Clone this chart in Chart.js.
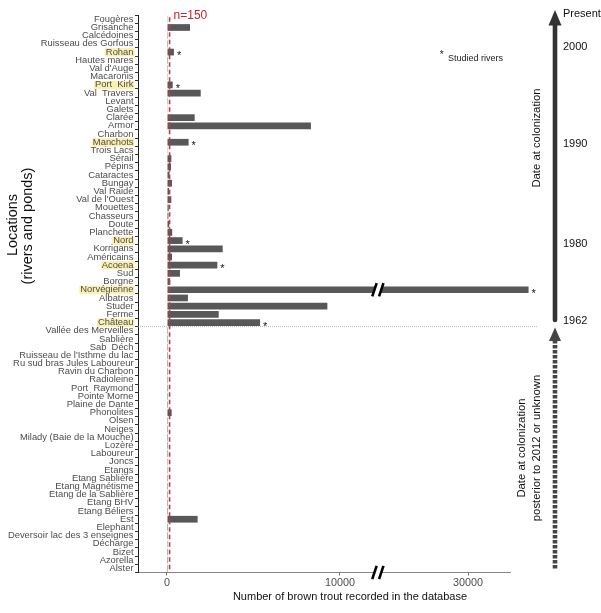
<!DOCTYPE html>
<html>
<head>
<meta charset="utf-8">
<script src="https://cdn.jsdelivr.net/npm/chart.js@4.4.0/dist/chart.umd.min.js"></script>
<style>
  html, body { margin: 0; padding: 0; background: #fff; }
  #wrap { width: 601px; height: 613px; position: relative; }
</style>
</head>
<body>
<div id="wrap"><canvas id="trout-chart"></canvas></div>
<script>
const locations = [
  'Fougères', 'Grisanche', 'Calcédoines', 'Ruisseau des Gorfous', 'Rohan', 'Hautes mares',
  "Val d'Auge", 'Macaronis', 'Port  Kirk', 'Val  Travers', 'Levant', 'Galets', 'Clarée', 'Armor',
  'Charbon', 'Manchots', 'Trois Lacs', 'Sérail', 'Pépins', 'Cataractes', 'Bungay', 'Val Raide',
  "Val de l'Ouest", 'Mouettes', 'Chasseurs', 'Doute', 'Planchette', 'Nord', 'Korrigans',
  'Américains', 'Acoena', 'Sud', 'Borgne', 'Norvégienne', 'Albatros', 'Studer', 'Ferme', 'Château',
  'Vallée des Merveilles', 'Sablière', 'Sab  Déch', "Ruisseau de l'Isthme du lac",
  'Ru sud bras Jules Laboureur', 'Ravin du Charbon', 'Radioleine', 'Port  Raymond', 'Pointe Morne',
  'Plaine de Dante', 'Phonolites', 'Olsen', 'Neiges', 'Milady (Baie de la Mouche)', 'Lozère',
  'Laboureur', 'Joncs', 'Etangs', 'Etang Sablière', 'Etang Magnétisme', 'Etang de la Sablière',
  'Etang BHV', 'Etang Béliers', 'Est', 'Elephant', 'Deversoir lac des 3 enseignes', 'Décharge',
  'Bizet', 'Azorella', 'Alster'
];

const troutCounts = [
  40, 1330, 10, 5, 400, 5,
  10, 15, 330, 1950, 10, 20, 1600, 8320,
  30, 1250, 40, 250, 230, 150, 290, 120,
  250, 100, 80, 130, 300, 900, 3220,
  290, 2910, 750, 180, 33500, 1210, 9270, 2990, 5380,
  5, 5, 5, 3,
  3, 3, 5, 3, 5,
  3, 270, 5, 3, 3, 3,
  3, 10, 10, 5, 5, 3,
  3, 3, 1770, 3, 3, 10,
  3, 3, 5
];

const studiedRivers = ['Rohan', 'Port  Kirk', 'Manchots', 'Nord', 'Acoena', 'Norvégienne', 'Château'];
const xTickValues = [0, 10000, 30000];
const timelineYears = ['Present', '2000', '1990', '1980', '1962'];
const thresholdN = 150;
const lastDatedLocation = 'Château';

// axis break: values between BREAK_FROM and BREAK_FROM + BREAK_GAP are cut out
const BREAK_FROM = 12200;
const BREAK_GAP = 12600;

const FONT = '"Liberation Sans", Arial, sans-serif';

class BrokenLinearScale extends Chart.LinearScale {
  getPixelForValue(value) {
    const v = value > BREAK_FROM + BREAK_GAP ? value - BREAK_GAP : value;
    return super.getPixelForValue(v);
  }
}
BrokenLinearScale.id = 'brokenLinear';
BrokenLinearScale.defaults = {};
Chart.register(BrokenLinearScale);

function slashPair(ctx, cx, cy, h) {
  ctx.save();
  ctx.fillStyle = '#fff';
  ctx.beginPath();
  ctx.moveTo(cx - 5.5, cy + h);
  ctx.lineTo(cx + 1.5, cy + h);
  ctx.lineTo(cx + 5.5, cy - h);
  ctx.lineTo(cx - 1.5, cy - h);
  ctx.closePath();
  ctx.fill();
  ctx.strokeStyle = '#000';
  ctx.lineWidth = 2.6;
  [-3.6, 3.2].forEach(dx => {
    ctx.beginPath();
    ctx.moveTo(cx + dx - 2.2, cy + h);
    ctx.lineTo(cx + dx + 2.2, cy - h);
    ctx.stroke();
  });
  ctx.restore();
}

function rotatedText(ctx, text, x, y, font, color) {
  ctx.save();
  ctx.translate(x, y);
  ctx.rotate(-Math.PI / 2);
  ctx.font = font;
  ctx.fillStyle = color;
  ctx.textAlign = 'center';
  ctx.textBaseline = 'alphabetic';
  ctx.fillText(text, 0, 0);
  ctx.restore();
}

const decorPlugin = {
  id: 'decor',
  beforeDraw(chart) {
    const ctx = chart.ctx;
    const y = chart.scales.y;
    ctx.save();
    ctx.fillStyle = '#fff';
    ctx.fillRect(0, 0, chart.width, chart.height);
    // yellow highlight behind studied rivers
    ctx.font = '9.4px ' + FONT;
    ctx.fillStyle = '#faf0b2';
    locations.forEach((name, i) => {
      if (!studiedRivers.includes(name)) return;
      const py = y.getPixelForTick(i);
      const w = ctx.measureText(name).width;
      ctx.fillRect(y.right - 4.5 - w - 1, py - 4, w + 2, 8.4);
    });
    ctx.restore();
  },
  afterDraw(chart) {
    const ctx = chart.ctx;
    const x = chart.scales.x;
    const y = chart.scales.y;
    const area = chart.chartArea;
    const bars = chart.getDatasetMeta(0).data;
    ctx.save();

    // stars after studied rivers
    ctx.fillStyle = '#111';
    ctx.font = '11px ' + FONT;
    ctx.textAlign = 'left';
    ctx.textBaseline = 'alphabetic';
    locations.forEach((name, i) => {
      if (!studiedRivers.includes(name)) return;
      ctx.fillText('*', bars[i].x + 3, bars[i].y + 7);
    });

    // threshold line n=150
    const tx = x.getPixelForValue(thresholdN);
    ctx.strokeStyle = '#c23a4a';
    ctx.lineWidth = 1.6;
    ctx.setLineDash([4.5, 3]);
    ctx.beginPath();
    ctx.moveTo(tx, area.top + 2);
    ctx.lineTo(tx, area.bottom);
    ctx.stroke();
    ctx.setLineDash([]);
    ctx.fillStyle = '#c8242c';
    ctx.font = '12px ' + FONT;
    ctx.textBaseline = 'middle';
    ctx.fillText('n=' + thresholdN, tx + 4, area.top + 0.8);

    // separator between dated and undated locations
    const k = locations.indexOf(lastDatedLocation);
    const sy = (y.getPixelForTick(k) + y.getPixelForTick(k + 1)) / 2;
    ctx.strokeStyle = '#a8a8a8';
    ctx.lineWidth = 0.8;
    ctx.setLineDash([1, 1]);
    ctx.beginPath();
    ctx.moveTo(area.left, sy);
    ctx.lineTo(area.right + 27, sy);
    ctx.stroke();
    ctx.setLineDash([]);

    // axis break marks
    const bx = x.getPixelForValue(BREAK_FROM);
    const big = troutCounts.findIndex(v => v > BREAK_FROM + BREAK_GAP);
    slashPair(ctx, bx, bars[big].y, 6.6);
    slashPair(ctx, bx, area.bottom, 6.6);

    // legend
    ctx.fillStyle = '#222';
    ctx.font = '10px ' + FONT;
    ctx.textAlign = 'center';
    ctx.textBaseline = 'alphabetic';
    ctx.fillText('*', 441.7, 57.5);
    ctx.font = '9px ' + FONT;
    ctx.textAlign = 'left';
    ctx.fillText('Studied rivers', 448, 61.3);

    // axis titles
    ctx.fillStyle = '#111';
    ctx.font = '11px ' + FONT;
    ctx.textAlign = 'center';
    ctx.textBaseline = 'middle';
    ctx.fillText('Number of brown trout recorded in the database', 350, 597);
    rotatedText(ctx, 'Locations', 16.5, 225, '14.5px ' + FONT, '#111');
    rotatedText(ctx, '(rivers and ponds)', 31.8, 226, '14.5px ' + FONT, '#111');

    // timeline on the right
    const ax = 555;
    ctx.fillStyle = '#333';
    ctx.strokeStyle = '#333';
    ctx.lineWidth = 4.6;
    ctx.lineCap = 'round';
    ctx.beginPath();
    ctx.moveTo(ax, 24);
    ctx.lineTo(ax, 320);
    ctx.stroke();
    ctx.beginPath();
    ctx.moveTo(ax, 10);
    ctx.lineTo(ax + 6.5, 25.5);
    ctx.lineTo(ax - 6.5, 25.5);
    ctx.closePath();
    ctx.fill();

    ctx.strokeStyle = '#444';
    ctx.fillStyle = '#444';
    ctx.lineCap = 'butt';
    ctx.setLineDash([3.4, 1.6]);
    ctx.beginPath();
    ctx.moveTo(ax, 340);
    ctx.lineTo(ax, 570);
    ctx.stroke();
    ctx.setLineDash([]);
    ctx.beginPath();
    ctx.moveTo(ax, 327.5);
    ctx.lineTo(ax + 6, 341);
    ctx.lineTo(ax - 6, 341);
    ctx.closePath();
    ctx.fill();

    const yearY = [14, 46.7, 144, 244, 321];
    ctx.fillStyle = '#111';
    ctx.font = '11px ' + FONT;
    ctx.textAlign = 'left';
    ctx.textBaseline = 'middle';
    timelineYears.forEach((t, i) => ctx.fillText(t, 563, yearY[i]));

    rotatedText(ctx, 'Date at colonization', 540, 138, '11.3px ' + FONT, '#111');
    rotatedText(ctx, 'Date at colonization', 525, 448, '11.3px ' + FONT, '#111');
    rotatedText(ctx, 'posterior to 2012 or unknown', 539.5, 448, '11.3px ' + FONT, '#111');

    ctx.restore();
  }
};

new Chart(document.getElementById('trout-chart').getContext('2d'), {
  type: 'bar',
  data: {
    labels: locations,
    datasets: [{
      data: troutCounts,
      backgroundColor: '#585858',
      borderWidth: 0,
      categoryPercentage: 1,
      barPercentage: 0.82,
      clip: false
    }]
  },
  options: {
    indexAxis: 'y',
    responsive: true,
    maintainAspectRatio: false,
    animation: false,
    events: [],
    layout: { padding: { left: 0, right: 91, top: 15.2, bottom: 0 } },
    plugins: { legend: { display: false }, tooltip: { enabled: false } },
    scales: {
      x: {
        type: 'brokenLinear',
        min: -1676,
        max: 19827,
        bounds: 'data',
        afterBuildTicks: s => { s.ticks = xTickValues.map(v => ({ value: v })); },
        afterFit: s => { s.height = 40.5; },
        ticks: {
          callback: v => String(v),
          color: '#4d4d4d',
          font: { family: FONT, size: 10.8 },
          padding: 1.5,
          maxRotation: 0,
          autoSkip: false
        },
        grid: { drawOnChartArea: false, drawTicks: true, tickLength: 3, color: '#777' },
        border: { color: '#888', width: 1 }
      },
      y: {
        type: 'category',
        afterFit: s => { s.width = 138; },
        ticks: {
          color: '#4d4d4d',
          font: { family: FONT, size: 9.4 },
          padding: 1.5,
          autoSkip: false
        },
        grid: { drawOnChartArea: false, drawTicks: true, tickLength: 3, color: '#333' },
        border: { color: '#222', width: 1 }
      }
    }
  },
  plugins: [decorPlugin]
});
</script>
</body>
</html>
